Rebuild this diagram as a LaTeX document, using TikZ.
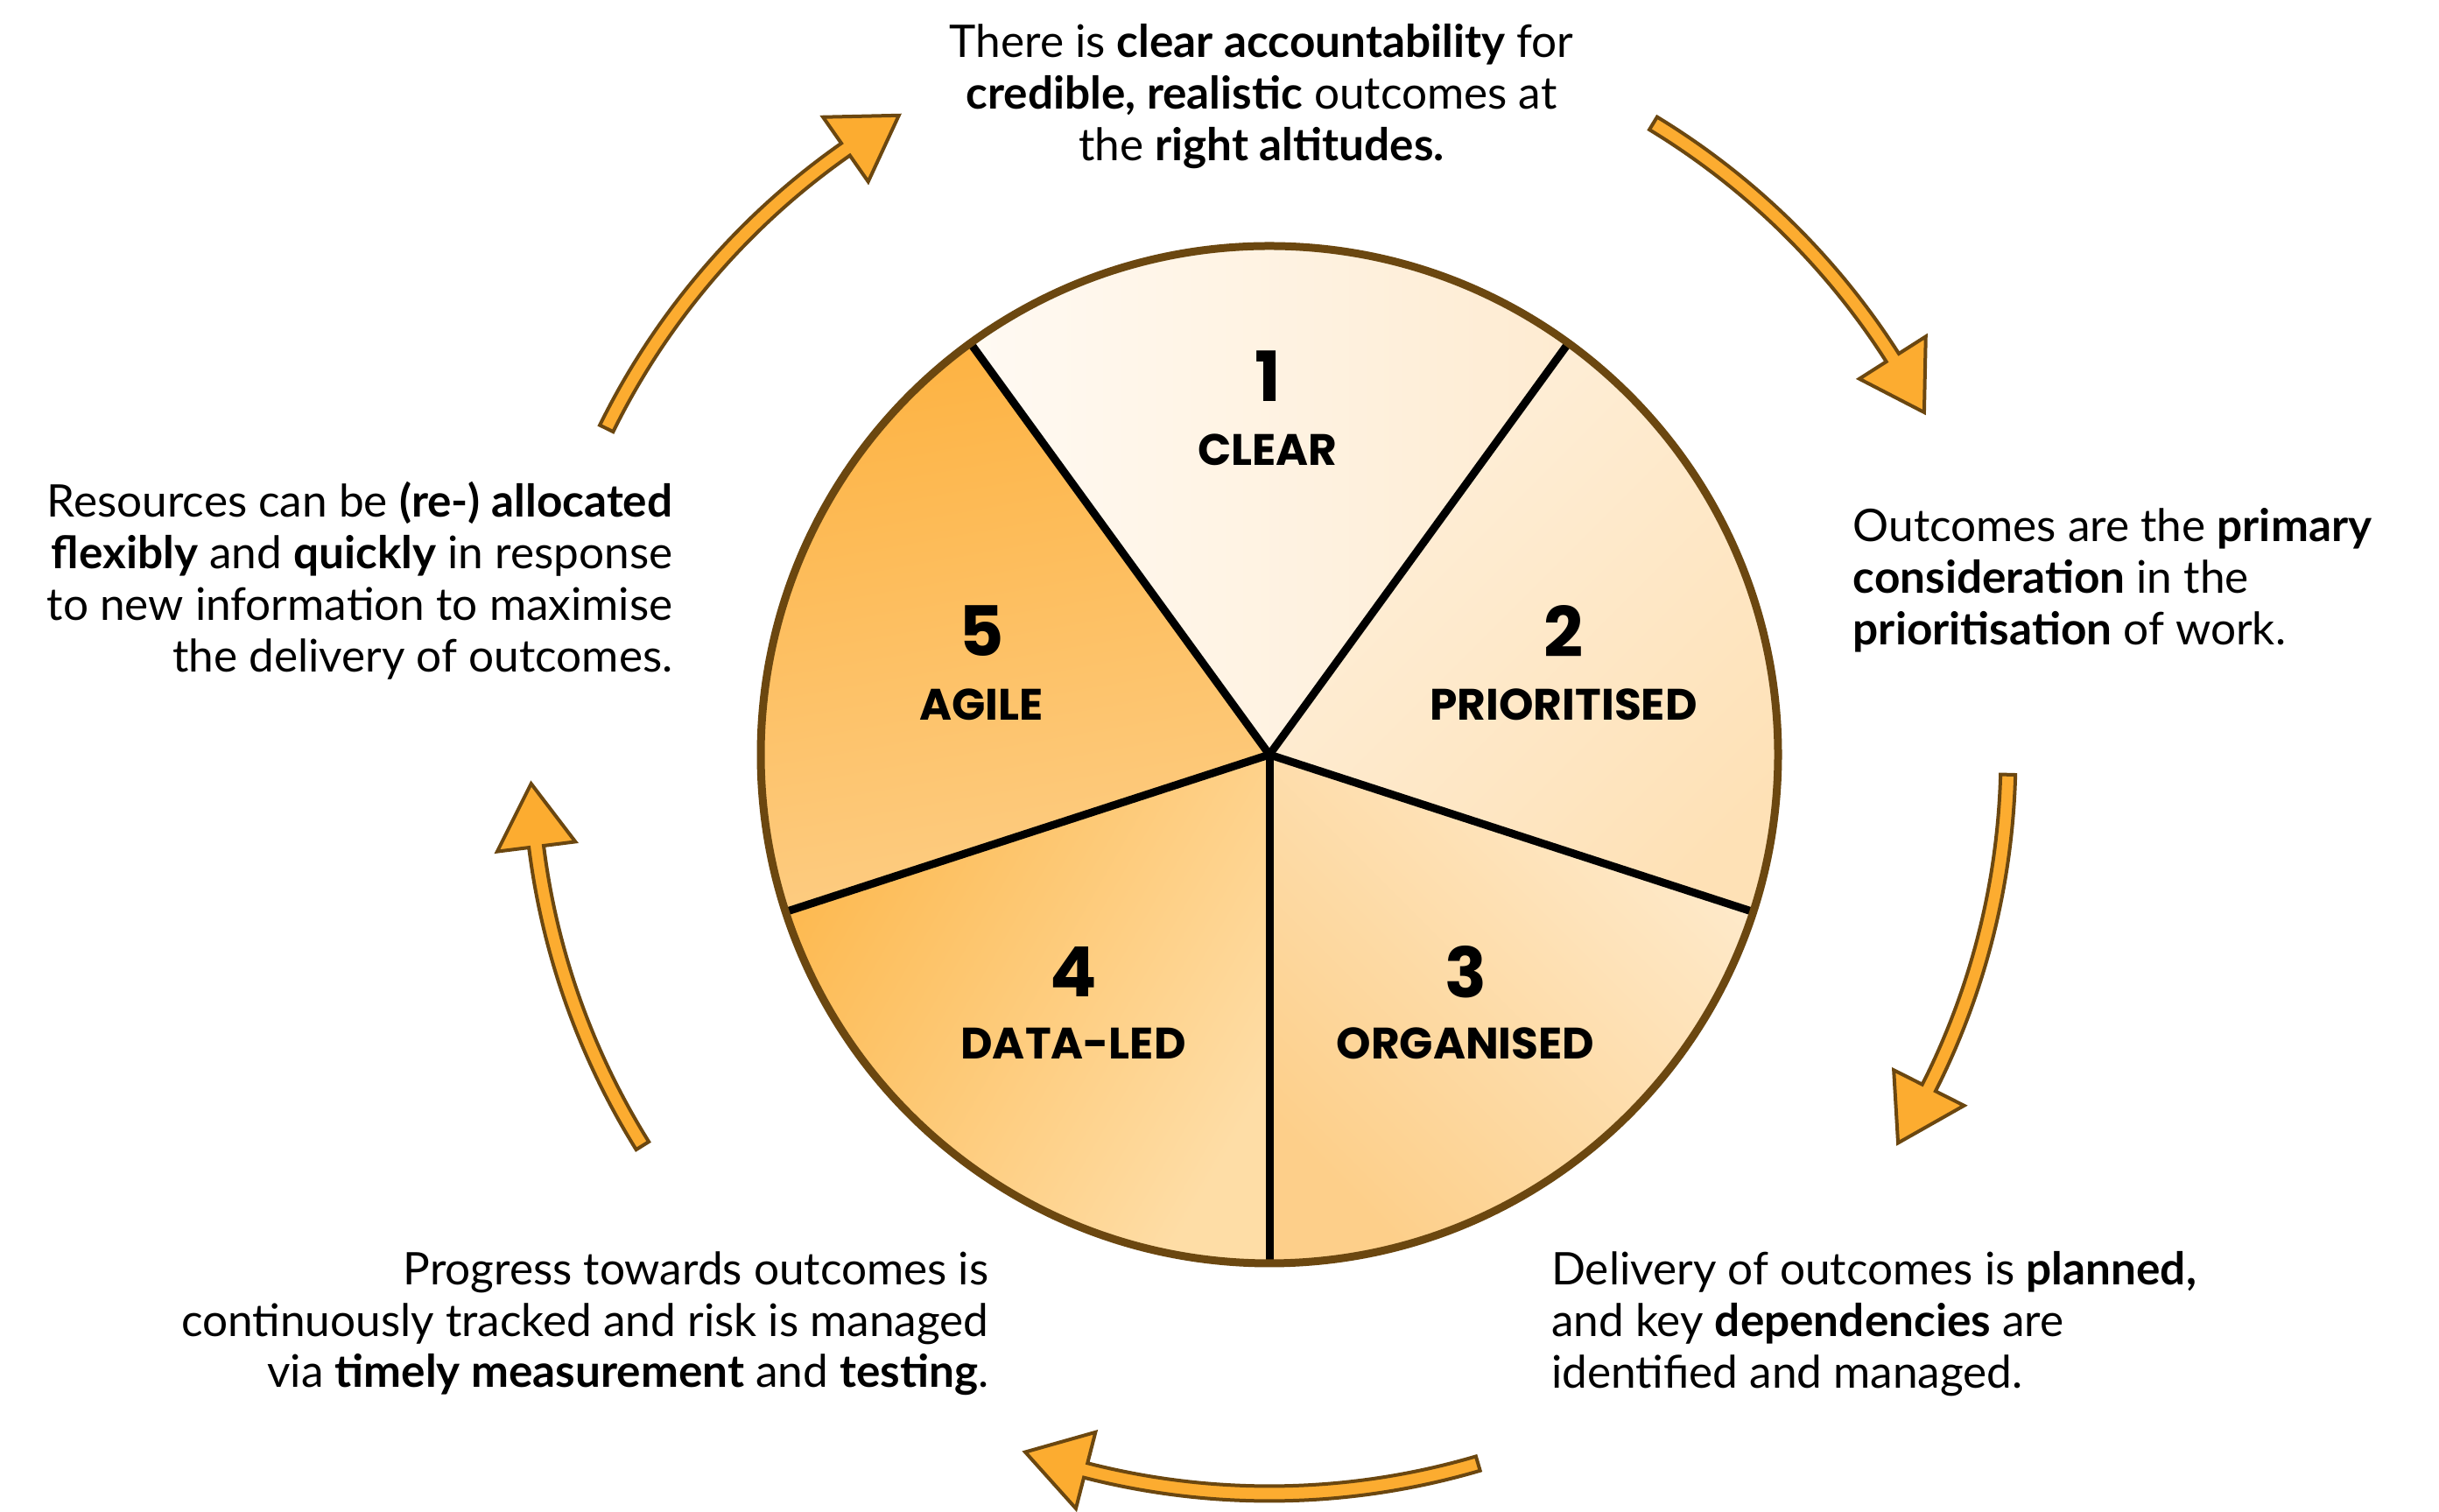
\documentclass[tikz,border=0pt]{standalone}
\usepackage{fontspec}
\setmainfont{Lato}
\newfontfamily\labelfont{Poppins}
\definecolor{brownline}{HTML}{6B4710}
\definecolor{arroworange}{HTML}{FCAC30}
\definecolor{sAlight}{HTML}{FFFAF3}
\definecolor{sAdark}{HTML}{FEEBD1}
\definecolor{sBlight}{HTML}{FEF0DC}
\definecolor{sBdark}{HTML}{FEE1B6}
\definecolor{sClight}{HTML}{FEEACB}
\definecolor{sCdark}{HTML}{FDCF8A}
\definecolor{sDorange}{HTML}{FDBA52}
\definecolor{sDlight}{HTML}{FEDDA6}
\definecolor{sEtop}{HTML}{FDB343}
\definecolor{sEbottom}{HTML}{FDCD84}
\tikzset{
  arrowbody/.style={fill=arroworange, draw=brownline, line width=0.04cm, line join=miter},
  divider/.style={draw=black, line width=0.09cm},
  rim/.style={draw=brownline, line width=0.09cm},
  numtext/.style={font=\labelfont\bfseries\fontsize{22.5}{24}\selectfont, inner sep=0pt},
  segtext/.style={font=\labelfont\bfseries\fontsize{14.3}{15}\selectfont, inner sep=0pt},
  bodytext/.style={font=\fontsize{14.6}{16.7}\selectfont, inner sep=0pt},
}
\newcommand\cyclearrow[2]{%
  \pgfmathsetmacro\hb{#2+4.9}%
  \draw[arrowbody] (#1:8.525) arc[start angle=#1, end angle=\hb, radius=8.525]
    -- (\hb:8.89) -- (#2:8.44) -- (\hb:7.99) -- (\hb:8.355)
    arc[start angle=\hb, end angle=#1, radius=8.355] -- cycle;
}
\begin{document}
\begin{tikzpicture}
\fill[white] (0,0) rectangle (27.86,17.27);
\useasboundingbox (0,0) rectangle (27.86,17.27);
\coordinate (C) at (14.50,8.65);
\begin{scope}[shift={(C)}]
  % sectors
  \shade[top color=sAlight, bottom color=sAdark, shading angle=90]
    (0,0) -- (54:5.81) arc[start angle=54, end angle=126, radius=5.81] -- cycle;
  \shade[top color=sBlight, bottom color=sBdark, shading angle=45]
    (0,0) -- (-18:5.81) arc[start angle=-18, end angle=54, radius=5.81] -- cycle;
  \shade[top color=sClight, bottom color=sCdark, shading angle=-45]
    (0,0) -- (-90:5.81) arc[start angle=-90, end angle=-18, radius=5.81] -- cycle;
  \shade[top color=sDorange, bottom color=sDlight, shading angle=60]
    (0,0) -- (198:5.81) arc[start angle=198, end angle=270, radius=5.81] -- cycle;
  \shade[top color=sEtop, bottom color=sEbottom, shading angle=10]
    (0,0) -- (126:5.81) arc[start angle=126, end angle=198, radius=5.81] -- cycle;
  % dividers
  \coordinate (O) at (0,0);
  \coordinate (d1) at (54:5.81);
  \coordinate (d2) at (126:5.81);
  \coordinate (d3) at (198:5.81);
  \coordinate (d4) at (270:5.81);
  \coordinate (d5) at (342:5.81);
  \draw[divider] (O) -- (d1);
  \draw[divider] (O) -- (d2);
  \draw[divider] (O) -- (d3);
  \draw[divider] (O) -- (d4);
  \draw[divider] (O) -- (d5);
  \draw[rim] (O) circle[radius=5.81];
  % arrows
  \cyclearrow{153.8}{120.1}
  \cyclearrow{58.7}{27.6}
  \cyclearrow{-1.55}{-31.7}
  \cyclearrow{-73.6}{-109.3}
  \cyclearrow{211.95}{182.25}
\end{scope}
% segment labels
\node[numtext] (n1) at (14.48,12.97) {1};
\node[segtext] (l1) at (14.48,12.135) {CLEAR};
\node[numtext] (n2) at (17.86,10.06) {2};
\node[segtext] (l2) at (17.86,9.22) {PRIORITISED};
\node[numtext] (n3) at (16.74,6.165) {3};
\node[segtext] (l3) at (16.74,5.35) {ORGANISED};
\node[numtext] (n4) at (12.26,6.165) {4};
\node[segtext] (l4) at (12.26,5.35) {DATA-LED};
\node[numtext] (n5) at (11.21,10.06) {5};
\node[segtext] (l5) at (11.21,9.22) {AGILE};
% descriptions
\node[bodytext, align=center, anchor=north] (tTop) at (14.41,17.00)
  {There is \textbf{clear accountability} for\\\textbf{credible, realistic} outcomes at\\the \textbf{right altitudes.}};
\node[bodytext, align=left, anchor=north west] (tRight) at (21.16,11.47)
  {Outcomes are the \textbf{primary}\\\textbf{consideration} in the\\\textbf{prioritisation} of work.};
\node[bodytext, align=left, anchor=north west] (tBotRight) at (17.715,2.98)
  {Delivery of outcomes is \textbf{planned,}\\and key \textbf{dependencies} are\\identified and managed.};
\node[bodytext, align=right, anchor=north east] (tBotLeft) at (11.30,2.98)
  {Progress towards outcomes is\\continuously tracked and risk is managed\\via \textbf{timely measurement} and \textbf{testing}.};
\node[bodytext, align=right, anchor=north east] (tLeft) at (7.69,11.77)
  {Resources can be \textbf{(re-) allocated}\\\textbf{flexibly} and \textbf{quickly} in response\\to new information to maximise\\the delivery of outcomes.};
\end{tikzpicture}
\end{document}
